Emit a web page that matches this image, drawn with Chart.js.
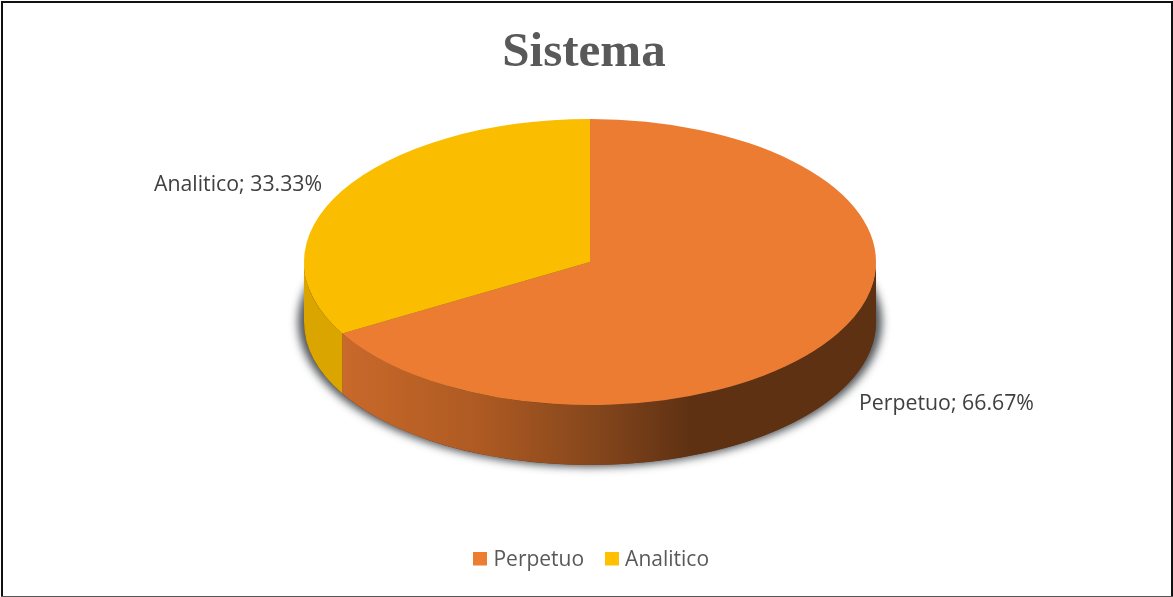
<!DOCTYPE html>
<html><head><meta charset="utf-8">
<style>html,body{margin:0;padding:0;background:#fff}canvas{display:block}</style>
<script src="https://cdn.jsdelivr.net/npm/chart.js@4"></script>
</head><body><canvas id="c" width="1173" height="597"></canvas>
<script>
const categories = ['Perpetuo', 'Analitico'];
const values = [66.67, 33.33];
const colors = ['#EB7C31', '#FBBD00'];
const legendColors = ['#ED7D31', '#FFC000'];
const titleText = 'Sistema';

const CX = 590, CY = 262, RX = 286, SQUASH = 0.5, DEPTH = 60;

function tf(chart, ctx) {
  const a = chart.getDatasetMeta(0).data[0];
  ctx.translate(CX, CY);
  ctx.scale(1, SQUASH);
  ctx.translate(-a.x, -a.y);
}
function wall(ctx, from, to) {
  const ry = RX * SQUASH;
  ctx.beginPath();
  ctx.ellipse(CX, CY, RX, ry, 0, from, to, false);
  ctx.ellipse(CX, CY + DEPTH, RX, ry, 0, to, from, true);
  ctx.closePath();
}
function swatch(color) {
  const s = document.createElement('canvas');
  s.width = 14; s.height = 18;
  const c = s.getContext('2d');
  c.fillStyle = color;
  c.fillRect(0, 0, 14, 14);
  return s;
}
const pie3d = {
  id: 'pie3d',
  afterLayout(chart) {
    chart.legend.left += 6.5; chart.legend.right += 6.5;
    chart.titleBlock.left -= 2.5; chart.titleBlock.right -= 2.5;
  },
  beforeDatasetsDraw(chart) {
    const ctx = chart.ctx;
    const arcs = chart.getDatasetMeta(0).data;
    const oEnd = Math.min(arcs[0].endAngle, Math.PI);
    const yStart = arcs[1].startAngle;
    // soft shadow: only the blurred copy lands on the page
    ctx.save();
    ctx.shadowColor = 'rgba(50,55,60,0.85)';
    ctx.shadowBlur = 9;
    ctx.shadowOffsetX = 3000;
    ctx.fillStyle = '#000';
    ctx.beginPath();
    ctx.ellipse(CX - 3000, CY + DEPTH, RX + 6, RX * SQUASH + 2, 0, 0, Math.PI * 2);
    ctx.fill();
    ctx.restore();

    ctx.save();
    ctx.fillStyle = '#5F3113';
    wall(ctx, 0, Math.PI); ctx.fill();
    const g = ctx.createLinearGradient(CX - RX * 0.866, 0, 690, 0);
    g.addColorStop(0, '#C9692B');
    g.addColorStop(0.4, '#AD5A22');
    g.addColorStop(0.72, '#86471C');
    g.addColorStop(1, '#5F3113');
    ctx.fillStyle = g;
    wall(ctx, 0, oEnd); ctx.fill();
    ctx.fillStyle = '#DBA500';
    wall(ctx, yStart, Math.PI); ctx.fill();
    ctx.restore();
  },
  beforeDatasetDraw(chart) {
    chart.ctx.save();
    tf(chart, chart.ctx);
  },
  afterDatasetDraw(chart) {
    chart.ctx.restore();
  },
  afterDraw(chart) {
    const ctx = chart.ctx;
    ctx.save();
    ctx.font = '21.3px "Open Sans"';
    ctx.fillStyle = '#404040';
    ctx.textBaseline = 'alphabetic';
    ctx.fillText(categories[1] + '; ' + values[1].toFixed(2) + '%', 154, 191);
    ctx.fillText(categories[0] + '; ' + values[0].toFixed(2) + '%', 859, 410);
    ctx.fillStyle = '#111';
    ctx.fillRect(1, 1, 2, 596);
    ctx.fillRect(1, 1, 1171, 2);
    ctx.fillRect(1171, 1, 2, 596);
    ctx.fillStyle = '#555';
    ctx.fillRect(1, 596, 1172, 1);
    ctx.restore();
  }
};

new Chart(document.getElementById('c'), {
  type: 'pie',
  data: {
    labels: categories,
    datasets: [{ data: values, backgroundColor: colors, borderWidth: 0, clip: false }]
  },
  options: {
    responsive: false,
    animation: false,
    radius: RX,
    layout: { padding: { bottom: 16 } },
    plugins: {
      title: {
        display: true, text: titleText, color: '#595959',
        font: { family: '"Liberation Serif"', size: 49, weight: 'bold' },
        padding: { top: 24, bottom: 10 }
      },
      legend: {
        position: 'bottom',
        labels: {
          color: '#595959', usePointStyle: true, pointStyleWidth: 6, boxHeight: 14, padding: 24.5,
          font: { family: '"Open Sans"', size: 21 },
          generateLabels(chart) {
            return Chart.overrides.pie.plugins.legend.labels.generateLabels(chart)
              .map((it, i) => ({ ...it, pointStyle: swatch(legendColors[i]) }));
          }
        }
      },
      tooltip: { enabled: false }
    }
  },
  plugins: [pie3d]
});
</script></body></html>
